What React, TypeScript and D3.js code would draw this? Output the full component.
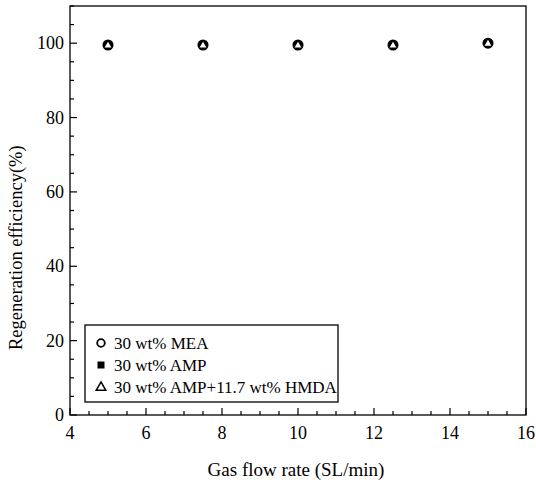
import React from "react";
import * as d3 from "d3";

const flowRates = [5, 7.5, 10, 12.5, 15];
const meaEff = [99.5, 99.5, 99.5, 99.5, 100];
const ampEff = [99.5, 99.5, 99.5, 99.5, 100];
const blendEff = [99.5, 99.5, 99.5, 99.5, 100];
const xTicks = [4, 6, 8, 10, 12, 14, 16];
const yTicks = [0, 20, 40, 60, 80, 100];
const legendLabels = ["30 wt% MEA", "30 wt% AMP", "30 wt% AMP+11.7 wt% HMDA"];

const W = 536, H = 487;
const M = { left: 70, right: 10, top: 6, bottom: 72 };
const FONT = "Liberation Serif, serif";

export default function App() {
  const x = d3.scaleLinear().domain([4, 16]).range([M.left, W - M.right]);
  const y = d3.scaleLinear().domain([0, 110]).range([H - M.bottom, M.top]);
  const xMinor = d3.range(4, 16.01, 0.5);
  const yMinor = d3.range(0, 110.01, 5);
  const tri = d3.symbol().type(d3.symbolTriangle);

  const marker = (cx: number, cy: number, key: string) => (
    <g key={key} transform={`translate(${cx},${cy})`}>
      <circle r={4.8} fill="#000" stroke="#000" strokeWidth={1.5} />
      <path d={tri.size(20)()!} transform="translate(0,0.6)" fill="#fff" stroke="none" />
    </g>
  );

  const legendX = 85, legendY = 325, legendW = 253, legendH = 77;
  const rows = [343, 365, 387];

  return (
    <svg width={W} height={H} style={{ position: "absolute", left: 0, top: 0, background: "#fff", fontFamily: FONT }}>
      <rect x={0} y={0} width={W} height={H} fill="#fff" />
      {/* frame */}
      <rect x={x(4)} y={y(110)} width={x(16) - x(4)} height={y(0) - y(110)} fill="none" stroke="#000" strokeWidth={1.3} />
      {/* x ticks */}
      {xMinor.map((v, i) => {
        const major = Math.abs(v - Math.round(v / 2) * 2) < 1e-6;
        return <line key={"xm" + i} x1={x(v)} x2={x(v)} y1={y(0)} y2={y(0) - (major ? 7 : 4)} stroke="#000" strokeWidth={1.2} />;
      })}
      {xTicks.map((v) => (
        <text key={"xt" + v} x={x(v)} y={y(0) + 24} textAnchor="middle" fontSize={18}>{v}</text>
      ))}
      {/* y ticks */}
      {yMinor.map((v, i) => {
        const major = v % 20 === 0;
        return <line key={"ym" + i} x1={x(4)} x2={x(4) + (major ? 7 : 4)} y1={y(v)} y2={y(v)} stroke="#000" strokeWidth={1.2} />;
      })}
      {yTicks.map((v) => (
        <text key={"yt" + v} x={x(4) - 6} y={y(v) + 6} textAnchor="end" fontSize={18}>{v}</text>
      ))}
      {/* axis titles */}
      <text x={296} y={476} textAnchor="middle" fontSize={19}>Gas flow rate (SL/min)</text>
      <text transform={`translate(22,${y(45)}) rotate(-90)`} textAnchor="middle" fontSize={18.5}>Regeneration efficiency(%)</text>
      {/* data */}
      {flowRates.map((f, i) => (
        <g key={"p" + i}>
          {marker(x(f), y((meaEff[i] + ampEff[i] + blendEff[i]) / 3), "m" + i)}
        </g>
      ))}
      {/* legend */}
      <rect x={legendX} y={legendY} width={legendW} height={legendH} fill="#fff" stroke="#000" strokeWidth={1.3} />
      <circle cx={101} cy={rows[0]} r={3.8} fill="none" stroke="#000" strokeWidth={1.8} />
      <rect x={97.5} y={rows[1] - 3.5} width={7} height={7} fill="#000" />
      <path d={tri.size(40)()!} transform={`translate(101,${rows[2] + 0.5})`} fill="none" stroke="#000" strokeWidth={1.5} />
      {legendLabels.map((t, i) => (
        <text key={"lg" + i} x={114} y={rows[i] + 6} fontSize={17}>{t}</text>
      ))}
    </svg>
  );
}
